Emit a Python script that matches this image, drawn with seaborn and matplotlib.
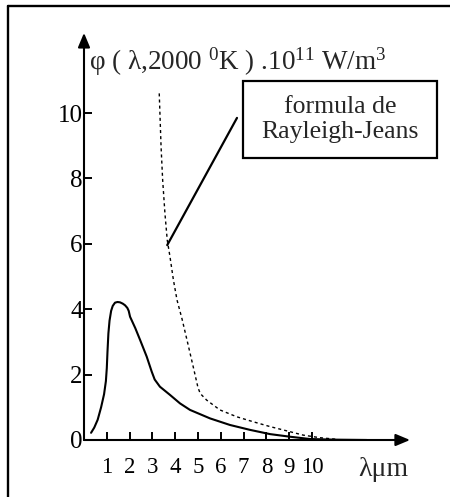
import matplotlib
matplotlib.use("Agg")
import matplotlib.pyplot as plt
import seaborn as sns
from matplotlib.lines import Line2D
from matplotlib.patches import Rectangle

# ---- data ----
planck_x = [0.31, 0.45, 0.60, 0.75, 0.88, 0.96, 1.00, 1.03, 1.07, 1.12, 1.19, 1.26, 1.36,
            1.47, 1.58, 1.70, 1.80, 1.90, 1.96, 2.02, 2.25, 2.46, 2.75, 2.97, 3.10,
            3.33, 3.77, 4.21, 4.65, 5.53, 6.40, 7.28, 8.16, 9.04, 9.91, 11.00, 12.40]
planck_y = [0.22, 0.38, 0.62, 1.00, 1.40, 1.80, 2.20, 2.70, 3.26, 3.65, 3.95, 4.10, 4.20,
            4.22, 4.21, 4.17, 4.12, 4.04, 3.95, 3.77, 3.42, 3.06, 2.55, 2.09, 1.85,
            1.63, 1.38, 1.12, 0.92, 0.66, 0.46, 0.31, 0.18, 0.10, 0.03, 0.01, 0.00]

rj_x = [3.30, 3.38, 3.45, 3.55, 3.65, 3.77, 3.92, 4.08, 4.30, 4.52, 4.79, 5.00, 5.10,
        5.38, 5.96, 6.70, 7.41, 8.16, 8.89, 9.61, 10.35, 11.10]
rj_y = [10.60, 8.97, 7.95, 6.93, 6.12, 5.61, 4.90, 4.28, 3.70, 3.05, 2.24, 1.60, 1.42,
        1.22, 0.92, 0.71, 0.56, 0.41, 0.28, 0.15, 0.07, 0.02]

x_ticks = [1, 2, 3, 4, 5, 6, 7, 8, 9, 10]
y_ticks = [0, 2, 4, 6, 8, 10]
y_title = r"φ ( λ,2000 $^0$K ) .10$^{11}$ W/m$^3$"
x_title = "λμm"
note_lines = ["formula de", "Rayleigh-Jeans"]

# ---- style ----
sns.set_theme(style="white")
plt.rcParams["font.family"] = ["Liberation Serif", "DejaVu Serif"]
plt.rcParams["mathtext.fontset"] = "custom"
plt.rcParams["mathtext.rm"] = "Liberation Serif"
plt.rcParams["mathtext.it"] = "Liberation Serif"

W, H = 450, 497
fig = plt.figure(figsize=(W / 100, H / 100), dpi=100)
fig.patch.set_facecolor("white")

x0, ux, y0, uy = 84, 22.8, 440, 32.7
xmax, ymax = 14.5, 12.6
ax = fig.add_axes([x0 / W, (H - y0) / H, xmax * ux / W, ymax * uy / H])
ax.set_facecolor("white")

sns.lineplot(x=planck_x, y=planck_y, ax=ax, color="black", lw=1.5, sort=False)
sns.lineplot(x=rj_x, y=rj_y, ax=ax, color="black", lw=1.0,
             linestyle=(0, (2.2, 2.2)), sort=False)

ax.set_xlim(0, xmax)
ax.set_ylim(0, ymax)
for s in ax.spines.values():
    s.set_visible(False)
ax.grid(False)

# axes with arrows
arrow = dict(arrowstyle="-|>,head_length=0.86,head_width=0.36", lw=1.5,
             color="black", shrinkA=0, shrinkB=0, mutation_scale=10)
ax.annotate("", xy=(14.3, 0), xytext=(0, 0), arrowprops=arrow, annotation_clip=False)
ax.annotate("", xy=(0, 12.45), xytext=(0, 0), arrowprops=arrow, annotation_clip=False)

ax.set_xticks(x_ticks)
ax.set_xticklabels([str(v) for v in x_ticks])
ax.set_yticks(y_ticks)
ax.set_yticklabels([str(v) for v in y_ticks])
ax.tick_params(axis="x", direction="in", length=5.8, width=1.4, pad=12,
               labelsize=16.5, color="black", labelcolor="black", bottom=True)
ax.tick_params(axis="y", direction="in", length=6, width=1.4, pad=1,
               labelsize=18, color="black", labelcolor="black", left=True)
ax.set_xlabel("")
ax.set_ylabel("")

# pointer line to Rayleigh-Jeans curve
ax.plot([6.71, 3.65], [9.85, 5.96], color="black", lw=1.6, clip_on=False)

# note box
fig.add_artist(Rectangle((243 / W, (H - 158) / H), 194 / W, 77 / H,
                         transform=fig.transFigure, fill=False, lw=1.6, ec="black"))
fig.text(340 / W, (H - 113) / H, note_lines[0], ha="center", va="baseline", fontsize=18.5)
fig.text(340 / W, (H - 138) / H, note_lines[1], ha="center", va="baseline", fontsize=18.5)

# titles
fig.text(89 / W, (H - 70) / H, y_title, ha="left", va="baseline", fontsize=19.5)
fig.text(383 / W, (H - 476) / H, x_title, ha="center", va="baseline", fontsize=20)

# page frame (left and top)
fig.add_artist(Line2D([8 / W, 8 / W], [0, (H - 6) / H], transform=fig.transFigure,
                      color="black", lw=1.7))
fig.add_artist(Line2D([8 / W, 1], [(H - 6) / H, (H - 6) / H], transform=fig.transFigure,
                      color="black", lw=1.7))

fig.savefig("out.png", dpi=100)
